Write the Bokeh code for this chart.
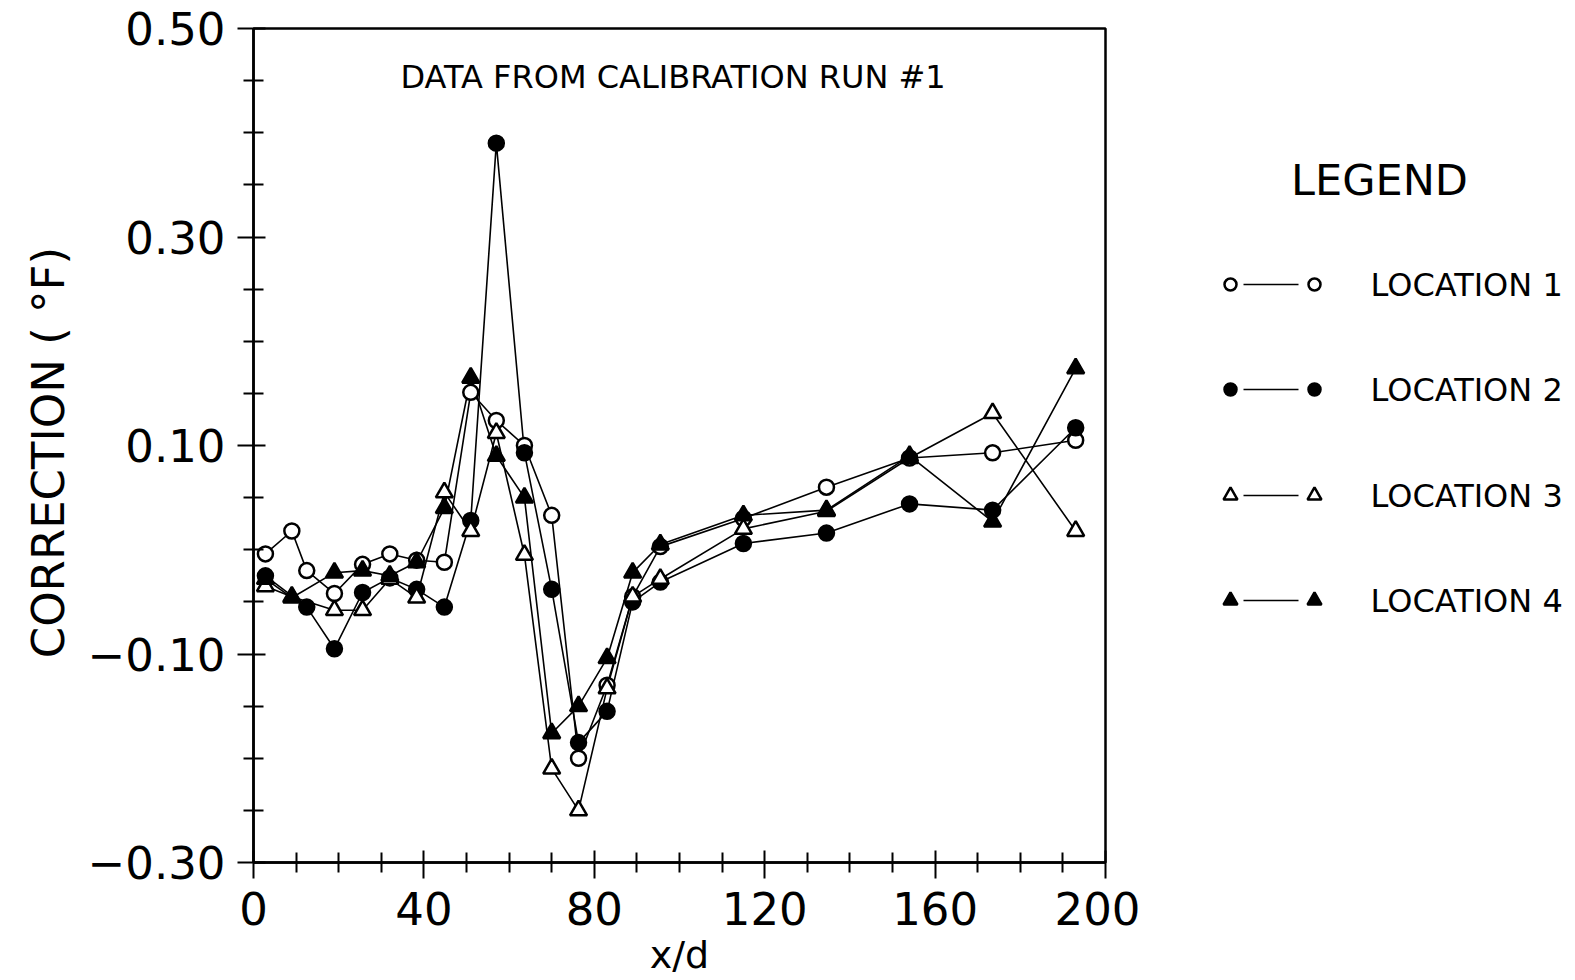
from bokeh.plotting import figure
from bokeh.models import FixedTicker, CustomJSTickFormatter, Label, Range1d
from bokeh.layouts import row
from bokeh.embed import file_html
from bokeh.resources import INLINE
from bokeh.core.properties import value

# ---------------- data ----------------
loc1_x = [2.8, 9, 12.5, 19, 25.6, 32, 38.3, 44.8, 51, 57, 63.6, 70, 76.3, 83, 89, 95.5, 115, 134.5, 154, 173.5, 193]
loc1_y = [-0.004, 0.018, -0.020, -0.042, -0.014, -0.004, -0.010, -0.012, 0.151, 0.124, 0.100, 0.033,
          -0.200, -0.130, -0.045, 0.003, 0.030, 0.060, 0.088, 0.093, 0.105]

loc2_x = [2.8, 12.5, 19, 25.6, 32, 38.3, 44.8, 51, 57, 63.6, 70, 76.3, 83, 89, 95.5, 115, 134.5, 154, 173.5, 193]
loc2_y = [-0.025, -0.055, -0.095, -0.041, -0.027, -0.038, -0.055, 0.028, 0.390, 0.093, -0.038,
          -0.185, -0.155, -0.050, -0.031, 0.006, 0.016, 0.044, 0.038, 0.117]

loc3_x = [2.8, 9, 19, 25.6, 32, 38.3, 44.8, 51, 57, 63.6, 70, 76.3, 83, 89, 95.5, 115, 134.5, 154, 173.5, 193]
loc3_y = [-0.035, -0.045, -0.058, -0.058, -0.028, -0.046, 0.055, 0.018, 0.112, -0.005, -0.210,
          -0.250, -0.133, -0.045, -0.028, 0.020, 0.037, 0.088, 0.131, 0.018]

loc4_x = [2.8, 9, 19, 25.6, 32, 38.3, 44.8, 51, 57, 63.6, 70, 76.3, 83, 89, 95.5, 115, 134.5, 154, 173.5, 193]
loc4_y = [-0.028, -0.046, -0.022, -0.020, -0.025, -0.012, 0.040, 0.165, 0.090, 0.050, -0.176,
          -0.150, -0.104, -0.022, 0.005, 0.033, 0.038, 0.090, 0.027, 0.174]

series_names = ["LOCATION 1", "LOCATION 2", "LOCATION 3", "LOCATION 4"]
x_major = [0, 40, 80, 120, 160, 200]
x_minor = [10, 20, 30, 50, 60, 70, 90, 100, 110, 130, 140, 150, 170, 180, 190]
y_major = [-0.30, -0.10, 0.10, 0.30, 0.50]
y_minor = [-0.25, -0.20, -0.15, -0.05, 0.0, 0.05, 0.15, 0.20, 0.25, 0.35, 0.40, 0.45]
title_text = "DATA FROM CALIBRATION RUN #1"
x_label = "x/d"
y_label = "CORRECTION  ( \u00b0F)"
legend_title = "LEGEND"

FONT = "DejaVu Sans"
series = [
    (loc1_x, loc1_y, "circle", "white", 15),
    (loc2_x, loc2_y, "circle", "black", 15),
    (loc3_x, loc3_y, "triangle", "white", 17),
    (loc4_x, loc4_y, "triangle", "black", 17),
]

p = figure(width=1140, height=980, x_range=Range1d(0, 200), y_range=Range1d(-0.3, 0.5),
           output_backend="svg", toolbar_location=None,
           min_border_left=253, min_border_right=35, min_border_top=28, min_border_bottom=118)
p.background_fill_color = "white"
p.border_fill_color = "white"
p.grid.visible = False
p.outline_line_color = "black"
p.outline_line_width = 2.5

p.xaxis.ticker = FixedTicker(ticks=x_major, minor_ticks=x_minor)
p.yaxis.ticker = FixedTicker(ticks=y_major, minor_ticks=y_minor)
p.yaxis.formatter = CustomJSTickFormatter(
    code="return (tick < -1e-9 ? '\u2212' : '') + Math.abs(tick).toFixed(2);")

for ax in (p.xaxis[0], p.yaxis[0]):
    ax.axis_line_width = 2.5
    ax.axis_line_color = "black"
    ax.major_tick_line_width = 2
    ax.minor_tick_line_width = 2
    ax.major_tick_line_color = "black"
    ax.minor_tick_line_color = "black"
    ax.major_tick_in = 12
    ax.major_tick_out = 16
    ax.minor_tick_in = 10
    ax.minor_tick_out = 10
    ax.major_label_text_font = FONT
    ax.major_label_text_font_size = "45px"
    ax.major_label_text_color = "black"
    ax.axis_label_text_font = FONT
    ax.axis_label_text_font_style = "normal"
    ax.axis_label_text_color = "black"

p.xaxis.major_label_standoff = 13
p.xaxis.axis_label = x_label
p.xaxis.axis_label_text_font_size = "38px"
p.xaxis.axis_label_standoff = 5
p.yaxis.major_label_standoff = 12
p.yaxis.axis_label = y_label
p.yaxis.axis_label_text_font_size = "45px"
p.yaxis.axis_label_standoff = 10

for xs, ys, mk, fill, sz in series:
    p.line(xs, ys, line_color="black", line_width=1.6)
for xs, ys, mk, fill, sz in series:
    p.scatter(xs, ys, marker=mk, size=sz, fill_color=fill, line_color="black", line_width=2.5)

p.add_layout(Label(x=98.5, y=0.453, text=title_text, text_font=FONT, text_font_size="32px",
                   text_align="center", text_baseline="middle", text_color="black"))

# ---------------- legend panel ----------------
lg = figure(width=435, height=980, x_range=Range1d(0, 435), y_range=Range1d(862, 28),
            output_backend="svg", toolbar_location=None,
            min_border_left=0, min_border_right=0, min_border_top=28, min_border_bottom=118)
lg.axis.visible = False
lg.grid.visible = False
lg.outline_line_color = None
lg.background_fill_color = "white"
lg.border_fill_color = "white"

lg.text(x=[239], y=[179], text=[legend_title], text_font=value(FONT), text_font_size="43px",
        text_align="center", text_baseline="middle", text_color="black")
rows_y = [284, 389, 495, 600]
for (xs, ys, mk, fill, sz), ry, name in zip(series, rows_y, series_names):
    lg.line([103, 158], [ry, ry], line_color="black", line_width=1.6)
    lg.scatter([90, 174], [ry, ry], marker=mk, size=sz - 3, fill_color=fill,
               line_color="black", line_width=2.5)
    lg.text(x=[230], y=[ry], text=[name], text_font=value(FONT), text_font_size="32px",
            text_align="left", text_baseline="middle", text_color="black")

layout = row(p, lg, spacing=0)
open("out.html", "w").write(file_html(layout, INLINE))
